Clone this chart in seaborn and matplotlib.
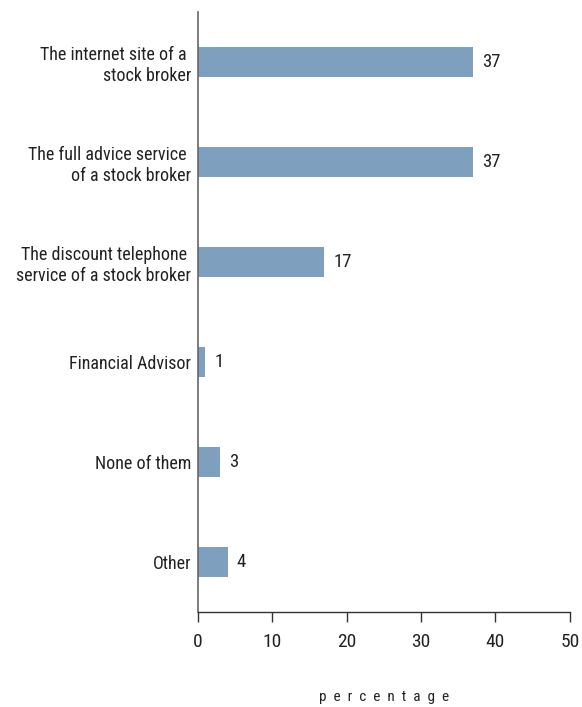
import matplotlib
matplotlib.use("Agg")
import matplotlib.pyplot as plt
import seaborn as sns
import pandas as pd

categories = [
    "The internet site of a \nstock broker",
    "The full advice service \nof a stock broker",
    "The discount telephone \nservice of a stock broker",
    "Financial Advisor",
    "None of them",
    "Other",
]
values = [37, 37, 17, 1, 3, 4]
x_ticks = [0, 10, 20, 30, 40, 50]

sns.set_theme(style="white")
plt.rcParams["font.family"] = ["Roboto Condensed", "Roboto", "DejaVu Sans"]

df = pd.DataFrame({"answer": categories, "pct": values})

fig = plt.figure(figsize=(5.82, 7.07), dpi=100)
ax = fig.add_axes([0.340, 0.1344, 0.639, 0.8487])

sns.barplot(data=df, x="pct", y="answer", orient="h", color="#7f9fbf",
            width=0.3, saturation=1, linewidth=0, ax=ax)

for i, v in enumerate(values):
    ax.text(v + 1.2, i, str(v), va="center", ha="left", fontsize=13.5, color="#222222")

ax.set_xlim(0, 50)
ax.set_ylim(5.5, -0.5)
ax.set_xticks(x_ticks)
ax.set_xticklabels([str(t) for t in x_ticks], fontsize=14, color="#222222")
ax.tick_params(axis="x", bottom=True, direction="out", length=7, width=1,
               color="#333333", pad=8)
ax.tick_params(axis="y", left=False, length=0, labelsize=13, labelcolor="#222222", pad=5)
for lbl in ax.get_yticklabels():
    lbl.set_multialignment("right")

ax.set_ylabel("")
ax.set_xlabel("p  e  r  c  e  n  t  a  g  e", fontsize=11, color="#222222", labelpad=28)

for s in ["top", "right"]:
    ax.spines[s].set_visible(False)
ax.spines["left"].set_color("#666666")
ax.spines["left"].set_linewidth(1.2)
ax.spines["bottom"].set_color("#333333")
ax.spines["bottom"].set_linewidth(1)
ax.grid(False)

fig.savefig("out.png", dpi=100)
